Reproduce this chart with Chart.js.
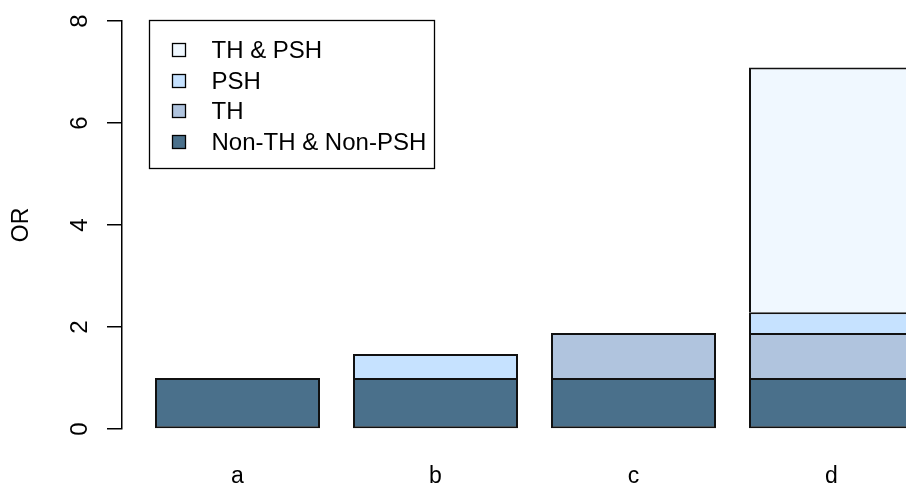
<!DOCTYPE html>
<html><head><meta charset="utf-8">
<script src="https://cdn.jsdelivr.net/npm/chart.js@4/dist/chart.umd.min.js"></script>
<style>html,body{margin:0;padding:0;background:#fff;overflow:hidden;} #wrap{width:940px;height:483px;position:relative;}</style>
</head><body><div id="wrap"><canvas id="c"></canvas></div>
<script>
const categories = ['a', 'b', 'c', 'd'];
const nonThNonPsh = [1.00, 1.00, 1.00, 1.00];
const thOnly      = [null, null, 0.88, 0.88];
const pshOnly     = [null, 0.47, null, 0.41];
const thAndPsh    = [null, null, null, 4.80];
const seriesNames = ['Non-TH & Non-PSH', 'TH', 'PSH', 'TH & PSH'];
const seriesColors = ['#4A708B', '#B0C4DE', '#C6E2FF', '#F0F8FF'];
const yTicks = [0, 2, 4, 6, 8];
const yLabel = 'OR';

const FONT = '"Liberation Sans", Arial, Helvetica, sans-serif';
const BAR_W = 1, BAR_SPACE = 0.2;
const center = i => BAR_SPACE + BAR_W / 2 + i * (BAR_W + BAR_SPACE);
const toPoints = arr => arr.map((v, i) => ({ x: center(i), y: v }));

const seriesValues = [nonThNonPsh, thOnly, pshOnly, thAndPsh];
const datasets = seriesValues.map((vals, k) => ({
  label: seriesNames[k],
  data: toPoints(vals),
  backgroundColor: seriesColors[k],
  borderColor: '#111',
  borderWidth: 2,
  borderSkipped: k === 0 ? false : 'start',
  barPercentage: BAR_W / (BAR_W + BAR_SPACE),
  categoryPercentage: 1
}));

const boxLegend = {
  id: 'boxLegend',
  afterDraw(chart) {
    const { ctx, chartArea } = chart;
    const x0 = Math.round(chartArea.left + 27) + 0.5;
    const y0 = Math.round(chartArea.top - 1) + 0.5;
    ctx.save();
    ctx.strokeStyle = '#000';
    ctx.lineWidth = 1.3;
    ctx.strokeRect(x0, y0, 285, 148);
    const items = chart.data.datasets.slice().reverse();
    ctx.font = '24px ' + FONT;
    ctx.textBaseline = 'middle';
    ctx.textAlign = 'left';
    items.forEach((ds, k) => {
      const cy = Math.round(y0 + 29.5 + k * 30.5);
      ctx.fillStyle = ds.backgroundColor;
      ctx.fillRect(x0 + 23, cy - 6.5, 13, 13);
      ctx.strokeRect(x0 + 23, cy - 6.5, 13, 13);
      ctx.fillStyle = '#000';
      ctx.fillText(ds.label, x0 + 62, cy + 1);
    });
    ctx.restore();
  }
};

const zeroPad = s => { s.paddingTop = 0; s.paddingBottom = 0; s.paddingLeft = 0; s.paddingRight = 0; };

new Chart(document.getElementById('c'), {
  type: 'bar',
  data: { datasets },
  plugins: [boxLegend],
  options: {
    responsive: true,
    maintainAspectRatio: false,
    animation: false,
    devicePixelRatio: 1,
    layout: { padding: { top: 21, right: 26, bottom: 0, left: 0 } },
    plugins: { legend: { display: false }, tooltip: { enabled: false } },
    scales: {
      x: {
        type: 'linear',
        stacked: true,
        offset: false,
        min: 0,
        max: categories.length * (BAR_W + BAR_SPACE),
        grid: { display: false },
        border: { display: false },
        afterBuildTicks: s => { s.ticks = categories.map((c, i) => ({ value: center(i) })); },
        afterFit: s => { s.height = 54; zeroPad(s); },
        ticks: {
          color: '#000',
          font: { family: FONT, size: 23 },
          padding: 26,
          maxRotation: 0,
          autoSkip: false,
          callback: (v, i) => categories[i]
        }
      },
      y: {
        stacked: true,
        min: 0,
        max: 8,
        afterBuildTicks: s => { s.ticks = yTicks.map(v => ({ value: v })); },
        afterFit: s => { s.width = 122; zeroPad(s); },
        grid: { display: true, drawOnChartArea: false, drawTicks: true, tickLength: 15, color: '#000', lineWidth: 1.5 },
        border: { display: true, color: '#000', width: 1.5 },
        ticks: {
          color: '#000',
          font: { family: FONT, size: 24 },
          minRotation: 90,
          maxRotation: 90,
          crossAlign: 'center',
          padding: 20,
          callback: v => String(v)
        },
        title: {
          display: true,
          text: yLabel,
          color: '#000',
          font: { family: FONT, size: 23 },
          padding: { top: 8, bottom: 0 }
        }
      }
    }
  }
});
</script>
</body></html>
